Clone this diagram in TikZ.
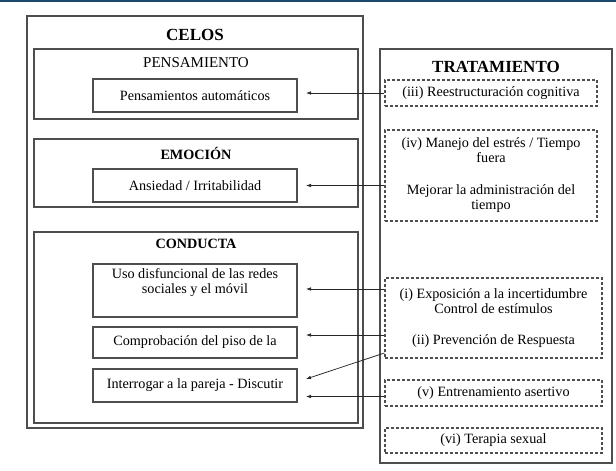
\documentclass[tikz,border=0pt]{standalone}
\usepackage{fontspec}
\setmainfont{Liberation Serif}
\usetikzlibrary{arrows.meta,calc}
\definecolor{rulecol}{HTML}{1B4A6E}
\definecolor{edgecol}{HTML}{4E4E4E}
\begin{document}
\begin{tikzpicture}[x=1pt,y=-1pt,
  every node/.style={font=\fontsize{14.2}{15}\selectfont},
  box/.style={draw=edgecol, line width=1.2pt, inner sep=0pt},
  dbox/.style={draw=edgecol, line width=1.1pt, dash pattern=on 3pt off 2pt, inner sep=0pt, align=center},
  inbox/.style={box, minimum width=204pt, align=center},
  tbox/.style={dbox, minimum width=217pt},
  head/.style={font=\fontsize{14.2}{15}\selectfont\bfseries},
  bighead/.style={font=\fontsize{17}{18}\selectfont\bfseries},
  arr/.style={-{Latex[length=5pt,width=3.6pt]}, line width=0.75pt, black!85}]
\useasboundingbox (0,0) rectangle (616,471);
\fill[rulecol] (0,0) rectangle (616,2);

% left side
\node[box, minimum width=336pt, minimum height=412pt] (celos) at (195,222) {};
\node[bighead] (celost) at (195,35) {CELOS};
\node[box, minimum width=324pt, minimum height=70pt] (pens) at (196,84) {};
\node (penst) at (196,63) {\fontsize{15}{16}\selectfont PENSAMIENTO};
\node[inbox, minimum height=33pt] (pa) at (195,95.5) {Pensamientos automáticos};

\node[box, minimum width=324pt, minimum height=68pt] (emo) at (196,173) {};
\node[head] (emot) at (196,153) {EMOCIÓN};
\node[inbox, minimum height=33pt] (an) at (195,185.5) {Ansiedad / Irritabilidad};

\node[box, minimum width=324pt, minimum height=191pt] (cond) at (196,327.5) {};
\node[head] (condt) at (196,244) {CONDUCTA};
\node[inbox, minimum height=53pt] (uso) at (195,290.5)
  {\parbox[c][45pt][t]{196pt}{\centering Uso disfuncional de las redes\\ sociales y el móvil}};
\node[inbox, minimum height=31pt] (comp) at (195,342.5) {Comprobación del piso de la};
\node[inbox, minimum height=33pt] (inter) at (195,385.5) {Interrogar a la pareja - Discutir};

% right side
\node[box, minimum width=232pt, minimum height=414pt] (trat) at (496,256) {};
\node[bighead] (tratt) at (496,67) {TRATAMIENTO};
\node[dbox, minimum width=212pt, minimum height=26pt] (iii) at (491,93) {(iii) Reestructuración cognitiva};
\node[dbox, minimum width=212pt, minimum height=91pt] (iv) at (491,175.5)
  {(iv) Manejo del estrés / Tiempo\\ fuera\\[17pt] Mejorar la administración del\\ tiempo};
\node[tbox, minimum height=80pt] (i) at (493.5,318)
  {(i) Exposición a la incertidumbre\\ Control de estímulos\\[16pt] (ii) Prevención de Respuesta};
\node[tbox, minimum height=26pt] (v) at (493.5,393) {(v) Entrenamiento asertivo};
\node[tbox, minimum height=25pt] (vi) at (493.5,440.5) {(vi) Terapia sexual};

% arrows
\coordinate (tx) at (306,0);
\draw[arr] (iii.west) -- (iii.west -| tx);
\draw[arr] (iv.west |- an) -- (an -| tx);
\draw[arr] ([yshift=1.5pt]i.west |- uso) coordinate (s3) -- (s3 -| tx);
\draw[arr] ([yshift=-17pt]i.west) coordinate (s4) -- (s4 -| tx);
\draw[arr] ([yshift=-35pt]i.west) -- ([yshift=6.5pt]inter.east -| tx);
\draw[arr] ([yshift=-3.5pt]v.west) coordinate (s6) -- (s6 -| tx);
\end{tikzpicture}
\end{document}
